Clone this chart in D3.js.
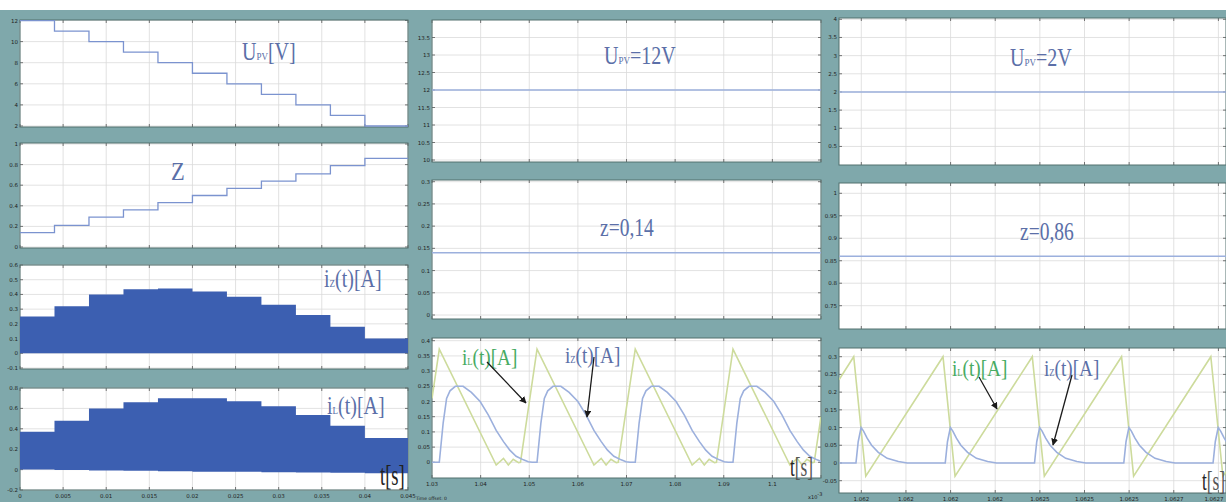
<!DOCTYPE html>
<html>
<head>
<meta charset="utf-8">
<script src="https://cdn.jsdelivr.net/npm/d3@7"></script>
<style>
  body { margin: 0; background: #fff; }
  svg { display: block; }
</style>
</head>
<body>
<div id="chart"></div>
<script>
// ---- left column: the PV voltage is swept down in 11 steps ----
const stepEdges = [0, 0.004, 0.008, 0.012, 0.016, 0.020, 0.024, 0.028, 0.032, 0.036, 0.040, 0.045];
const upvSteps  = [12, 11, 10, 9, 8, 7, 6, 5, 4, 3, 2];
const zSteps    = [0.14, 0.21, 0.29, 0.36, 0.43, 0.50, 0.57, 0.64, 0.71, 0.79, 0.86];
const izTop     = [0.25, 0.32, 0.40, 0.435, 0.44, 0.42, 0.385, 0.33, 0.26, 0.18, 0.10];
const ilTop     = [0.37, 0.48, 0.60, 0.66, 0.70, 0.70, 0.67, 0.62, 0.535, 0.43, 0.31];
const ilBottom  = [0, -0.004, -0.008, -0.012, -0.016, -0.02, -0.022, -0.025, -0.028, -0.032, -0.035];
const leftTicks = [0, 0.005, 0.01, 0.015, 0.02, 0.025, 0.03, 0.035, 0.04, 0.045];
const leftTickLabels = ['0', '0.005', '0.01', '0.015', '0.02', '0.025', '0.03', '0.035', '0.04', '0.045'];

// ---- middle column: U = 12 V, z = 0.14 ----
const midUpv = 12;
const midZ = 0.14;
const midTicks = [1.03, 1.04, 1.05, 1.06, 1.07, 1.08, 1.09, 1.10, 1.11];
const midTickLabels = ['1.03', '1.04', '1.05', '1.06', '1.07', '1.08', '1.09', '1.1', ''];
const midPeaks = [1.0315, 1.0516, 1.0718, 1.0919];          // iL peaks
const midIlShape = [[0, 0.372], [0.0117, -0.009], [0.0132, 0.013], [0.0142, -0.009],
                    [0.0152, 0.010], [0.0163, -0.001], [0.0167, 0.0]];
const midIzShape = [[0, 0], [0.0008, 0.13], [0.0015, 0.21], [0.0022, 0.235], [0.0033, 0.25],
                    [0.0049, 0.25], [0.0066, 0.23], [0.0084, 0.20], [0.0101, 0.155], [0.0117, 0.105],
                    [0.0132, 0.068], [0.0145, 0.04], [0.0158, 0.02], [0.0173, 0.008], [0.0183, 0.002], [0.0191, 0]];
const midIlStart = [1.03, 0.21], midIlEnd = [1.11, 0.15];
const midIzStart = [1.03, 0];

// ---- right column: U = 2 V, z = 0.86 (x in tick units) ----
const rightUpv = 2;
const rightZ = 0.86;
const rightTicks = [0, 1, 2, 3, 4, 5, 6, 7, 8];
const rightTickLabels = ['1.062', '1.062', '1.062', '1.062', '1.0625', '1.0625', '1.0625', '1.0627', '1.0627'];
const rightPeaks = [-0.17, 1.83, 3.83, 5.83, 7.83];
const rightIlShape = [[0, 0.30], [0.27, -0.037]];
const rightIzShape = [[0.05, 0], [0.10, 0.06], [0.165, 0.10], [0.22, 0.09], [0.30, 0.07], [0.40, 0.05],
                      [0.55, 0.03], [0.75, 0.013], [1.0, 0.004], [1.2, 0]];
const rightIlStart = [-0.5, 0.235], rightIlEnd = [8.17, -0.025];
const rightIzStart = [-0.5, 0];

// 颜色
const BG = '#7fa8ab';
const STEP_BLUE = '#7b93cf';
const FILL_BLUE = '#3c5fb1';
const PALE_GREEN = '#cddb9c';
const PALE_BLUE = '#9cb0dd';
const LABEL_BLUE = '#5b6fa8';
const LABEL_GREEN = '#47ab62';
const SERIF = '"Liberation Serif", "Times New Roman", serif';

const W = 1226, H = 502;
const svg = d3.select('#chart').append('svg').attr('width', W).attr('height', H);
const defs = svg.append('defs');

defs.append('marker')
    .attr('id', 'arrow')
    .attr('viewBox', '0 0 10 10')
    .attr('refX', 9).attr('refY', 5)
    .attr('markerWidth', 7).attr('markerHeight', 7)
    .attr('markerUnits', 'userSpaceOnUse')
    .attr('orient', 'auto')
    .append('path').attr('d', 'M0,0 L10,5 L0,10 z').attr('fill', '#1a1a1a');

svg.append('rect').attr('x', 0).attr('y', 10).attr('width', W).attr('height', H - 10).attr('fill', BG);

let clipCount = 0;

// 画一个示波器面板，返回裁剪后的绘图组和比例尺
function panel(x, box, yDomain, yRange, yTicks, yLabels, xTicks, xLabels) {
    const y = d3.scaleLinear().domain(yDomain).range(yRange);
    const [x0, x1] = x.range();
    const [top, bottom] = box;
    const id = 'clip' + (clipCount++);

    defs.append('clipPath').attr('id', id)
        .append('rect').attr('x', x0).attr('y', top).attr('width', x1 - x0).attr('height', bottom - top);

    const g = svg.append('g');
    g.append('rect')
        .attr('x', x0).attr('y', top).attr('width', x1 - x0).attr('height', bottom - top)
        .attr('fill', '#fff');

    // 网格
    const grid = g.append('g').attr('stroke', '#dadada').attr('stroke-width', 0.8);
    grid.selectAll('line.h').data(yTicks).enter().append('line')
        .attr('x1', x0).attr('x2', x1).attr('y1', d => y(d)).attr('y2', d => y(d));
    grid.selectAll('line.v').data(xTicks).enter().append('line')
        .attr('x1', d => x(d)).attr('x2', d => x(d)).attr('y1', top).attr('y2', bottom);

    // 刻度线
    const ticks = g.append('g').attr('stroke', '#555').attr('stroke-width', 0.8);
    ticks.selectAll('line.yl').data(yTicks).enter().append('line')
        .attr('x1', x0).attr('x2', x0 + 3).attr('y1', d => y(d)).attr('y2', d => y(d));
    ticks.selectAll('line.yr').data(yTicks).enter().append('line')
        .attr('x1', x1 - 3).attr('x2', x1).attr('y1', d => y(d)).attr('y2', d => y(d));
    ticks.selectAll('line.xb').data(xTicks).enter().append('line')
        .attr('x1', d => x(d)).attr('x2', d => x(d)).attr('y1', bottom - 3).attr('y2', bottom);
    ticks.selectAll('line.xt').data(xTicks).enter().append('line')
        .attr('x1', d => x(d)).attr('x2', d => x(d)).attr('y1', top).attr('y2', top + 3);

    // y 轴标签
    g.append('g').selectAll('text').data(yTicks).enter().append('text')
        .attr('x', x0 - 2).attr('y', d => y(d) + 2)
        .attr('text-anchor', 'end')
        .attr('font-family', 'DejaVu Sans, sans-serif').attr('font-size', 5.5)
        .attr('fill', '#222')
        .text((d, i) => yLabels[i]);

    if (xLabels) {
        // 靠近右边缘的标签右对齐，避免被裁掉
        g.append('g').selectAll('text').data(xTicks).enter().append('text')
            .attr('x', d => Math.min(x(d), W - 12))
            .attr('y', bottom + 8)
            .attr('text-anchor', 'middle')
            .attr('font-family', 'DejaVu Sans, sans-serif').attr('font-size', 5.5)
            .attr('fill', '#222')
            .text((d, i) => xLabels[i]);
    }

    const plot = svg.append('g').attr('clip-path', `url(#${id})`);
    g.append('rect')
        .attr('x', x0).attr('y', top).attr('width', x1 - x0).attr('height', bottom - top)
        .attr('fill', 'none').attr('stroke', '#52716f').attr('stroke-width', 1);
    return { plot, x, y };
}

// 标签：主字母 + 下标 + 其余
function label(x, y, parts, color, size, sx) {
    const t = svg.append('text')
        .attr('transform', `translate(${x},${y}) scale(${sx || 0.8},1)`)
        .attr('font-family', SERIF).attr('font-size', size || 24)
        .attr('fill', color);
    parts.forEach(p => {
        const s = t.append('tspan').text(p.t);
        if (p.sub) s.attr('font-size', (size || 24) * 0.45);
        if (p.fill) s.attr('fill', p.fill);
    });
    return t;
}

function arrow(x1, y1, x2, y2) {
    svg.append('line')
        .attr('x1', x1).attr('y1', y1).attr('x2', x2).attr('y2', y2)
        .attr('stroke', '#1a1a1a').attr('stroke-width', 1.3)
        .attr('marker-end', 'url(#arrow)');
}

// 由周期波形和峰值时刻拼出一条曲线
function buildSeries(start, peaks, shape, end) {
    const pts = [start];
    peaks.forEach(p => shape.forEach(([dt, v]) => pts.push([p + dt, v])));
    if (end) pts.push(end);
    return pts;
}

// ================= 左列 =================
const xLeft = d3.scaleLinear().domain([0, 0.045]).range([20, 408]);
const stepData = (vals) => stepEdges.map((t, i) => [t, vals[Math.min(i, vals.length - 1)]]);
const stepLine = (p) => d3.line().curve(d3.curveStepAfter).x(d => p.x(d[0])).y(d => p.y(d[1]));

const pU = panel(xLeft, [20, 127], [2, 12], [126, 20.5], [2, 4, 6, 8, 10, 12], ['2', '4', '6', '8', '10', '12'], leftTicks, null);
pU.plot.append('path').datum(stepData(upvSteps)).attr('d', stepLine(pU))
    .attr('fill', 'none').attr('stroke', STEP_BLUE).attr('stroke-width', 1.3);

const pZ = panel(xLeft, [143, 248], [0, 1], [247, 144], [0, 0.2, 0.4, 0.6, 0.8, 1], ['0', '0.2', '0.4', '0.6', '0.8', '1'], leftTicks, null);
pZ.plot.append('path').datum(stepData(zSteps)).attr('d', stepLine(pZ))
    .attr('fill', 'none').attr('stroke', STEP_BLUE).attr('stroke-width', 1.3);

const pIz = panel(xLeft, [265, 369], [-0.1, 0.6], [368, 265],
    [-0.1, 0, 0.1, 0.2, 0.3, 0.4, 0.5, 0.6], ['-0.1', '0', '0.1', '0.2', '0.3', '0.4', '0.5', '0.6'], leftTicks, null);
pIz.plot.append('path')
    .datum(stepEdges.map((t, i) => ({ t, top: izTop[Math.min(i, izTop.length - 1)], low: 0 })))
    .attr('d', d3.area().curve(d3.curveStepAfter).x(d => pIz.x(d.t)).y0(d => pIz.y(d.low)).y1(d => pIz.y(d.top)))
    .attr('fill', FILL_BLUE);

const pIl = panel(xLeft, [388, 490], [-0.2, 0.8], [490, 388],
    [-0.2, 0, 0.2, 0.4, 0.6, 0.8], ['-0.2', '0', '0.2', '0.4', '0.6', '0.8'], leftTicks, leftTickLabels);
pIl.plot.append('path')
    .datum(stepEdges.map((t, i) => {
        const k = Math.min(i, ilTop.length - 1);
        return { t, top: ilTop[k], low: ilBottom[k] };
    }))
    .attr('d', d3.area().curve(d3.curveStepAfter).x(d => pIl.x(d.t)).y0(d => pIl.y(d.low)).y1(d => pIl.y(d.top)))
    .attr('fill', FILL_BLUE);

label(242, 60, [{ t: 'U' }, { t: 'PV', sub: true }, { t: '[V]' }], LABEL_BLUE, 25, 0.8);
label(171, 180, [{ t: 'Z' }], LABEL_BLUE, 25, 0.9);
label(324, 287, [{ t: 'i' }, { t: 'Z', sub: true }, { t: '(t)[A]' }], LABEL_BLUE, 25, 0.8);
label(327, 414, [{ t: 'i' }, { t: 'L', sub: true }, { t: '(t)[A]' }], LABEL_BLUE, 25, 0.8);
label(380, 485, [{ t: 't' }, { t: '[s]' }], '#222', 30, 0.62);

// ================= 中列 =================
const xMid = d3.scaleLinear().domain([1.03, 1.11]).range([432, 821]);
const flat = (p, v, d0, d1) => p.plot.append('path')
    .datum([[d0, v], [d1, v]])
    .attr('d', d3.line().x(d => p.x(d[0])).y(d => p.y(d[1])))
    .attr('stroke', PALE_BLUE).attr('stroke-width', 1.6).attr('fill', 'none');

const mU = panel(xMid, [20, 162], [10, 14], [160, 20],
    [10, 10.5, 11, 11.5, 12, 12.5, 13, 13.5], ['10', '10.5', '11', '11.5', '12', '12.5', '13', '13.5'], midTicks, null);
flat(mU, midUpv, 1.03, 1.11);

const mZ = panel(xMid, [180, 319], [0, 0.3], [315, 181.7],
    [0, 0.05, 0.1, 0.15, 0.2, 0.25, 0.3], ['0', '0.05', '0.1', '0.15', '0.2', '0.25', '0.3'], midTicks, null);
flat(mZ, midZ, 1.03, 1.11);

const mI = panel(xMid, [338, 478], [0, 0.4], [462.3, 340.7],
    [0, 0.05, 0.1, 0.15, 0.2, 0.25, 0.3, 0.35, 0.4], ['0', '0.05', '0.1', '0.15', '0.2', '0.25', '0.3', '0.35', '0.4'],
    midTicks, midTickLabels);
const mLine = d3.line().x(d => mI.x(d[0])).y(d => mI.y(d[1]));
mI.plot.append('path').datum(buildSeries(midIlStart, midPeaks, midIlShape, midIlEnd)).attr('d', mLine)
    .attr('fill', 'none').attr('stroke', PALE_GREEN).attr('stroke-width', 1.6);
mI.plot.append('path').datum(buildSeries(midIzStart, midPeaks, midIzShape, null)).attr('d', mLine)
    .attr('fill', 'none').attr('stroke', PALE_BLUE).attr('stroke-width', 1.6);

svg.append('text').attr('x', 416).attr('y', 500)
    .attr('font-family', 'DejaVu Sans, sans-serif').attr('font-size', 4.5).attr('fill', '#222')
    .text('Time offset:  0');
svg.append('text').attr('x', 808).attr('y', 499)
    .attr('font-family', 'DejaVu Sans, sans-serif').attr('font-size', 5).attr('fill', '#222')
    .text('x10').append('tspan').attr('dy', -3).text('-3');

label(604, 64, [{ t: 'U' }, { t: 'PV', sub: true }, { t: '=12V' }], LABEL_BLUE, 25, 0.8);
label(600, 236, [{ t: 'z=0,14' }], LABEL_BLUE, 25, 0.78);
label(462, 365, [{ t: 'i' }, { t: 'L', sub: true }, { t: '(t)[A]' }], LABEL_GREEN, 24, 0.8);
label(565, 363, [{ t: 'i' }, { t: 'Z', sub: true }, { t: '(t)[A]' }], LABEL_BLUE, 24, 0.8);
arrow(487, 362, 526, 403);
arrow(594, 357, 587, 417);
label(790, 476, [{ t: 't' }, { t: '[s]', fill: '#555' }], '#222', 28, 0.62);

// ================= 右列 =================
const xRight = d3.scaleLinear().domain([-0.5, 8.17]).range([839, 1226]);

const rU = panel(xRight, [18, 165], [0, 4], [164.6, 19.3],
    [0.5, 1, 1.5, 2, 2.5, 3, 3.5, 4], ['0.5', '1', '1.5', '2', '2.5', '3', '3.5', '4'], rightTicks, null);
flat(rU, rightUpv, -0.5, 8.17);

const rZ = panel(xRight, [183, 329], [0.75, 1], [305.7, 193.3],
    [0.75, 0.8, 0.85, 0.9, 0.95, 1], ['0.75', '0.8', '0.85', '0.9', '0.95', '1'], rightTicks, null);
flat(rZ, rightZ, -0.5, 8.17);

const rI = panel(xRight, [348, 493], [-0.05, 0.3], [480.7, 356.7],
    [-0.05, 0, 0.05, 0.1, 0.15, 0.2, 0.25, 0.3], ['-0.05', '0', '0.05', '0.1', '0.15', '0.2', '0.25', '0.3'],
    rightTicks, rightTickLabels);
const rLine = d3.line().x(d => rI.x(d[0])).y(d => rI.y(d[1]));
rI.plot.append('path').datum(buildSeries(rightIlStart, rightPeaks, rightIlShape, rightIlEnd)).attr('d', rLine)
    .attr('fill', 'none').attr('stroke', PALE_GREEN).attr('stroke-width', 1.6);
rI.plot.append('path').datum(buildSeries(rightIzStart, rightPeaks, rightIzShape, null)).attr('d', rLine)
    .attr('fill', 'none').attr('stroke', PALE_BLUE).attr('stroke-width', 1.6);

label(1010, 66, [{ t: 'U' }, { t: 'PV', sub: true }, { t: '=2V' }], LABEL_BLUE, 25, 0.8);
label(1020, 240, [{ t: 'z=0,86' }], LABEL_BLUE, 25, 0.78);
label(952, 376, [{ t: 'i' }, { t: 'L', sub: true }, { t: '(t)[A]' }], LABEL_GREEN, 24, 0.8);
label(1044, 376, [{ t: 'i' }, { t: 'Z', sub: true }, { t: '(t)[A]' }], LABEL_BLUE, 24, 0.8);
arrow(979, 377, 997, 409);
arrow(1072, 375, 1053, 445);
label(1202, 490, [{ t: 't' }, { t: '[s]', fill: '#555' }], '#222', 28, 0.62);
</script>
</body>
</html>
